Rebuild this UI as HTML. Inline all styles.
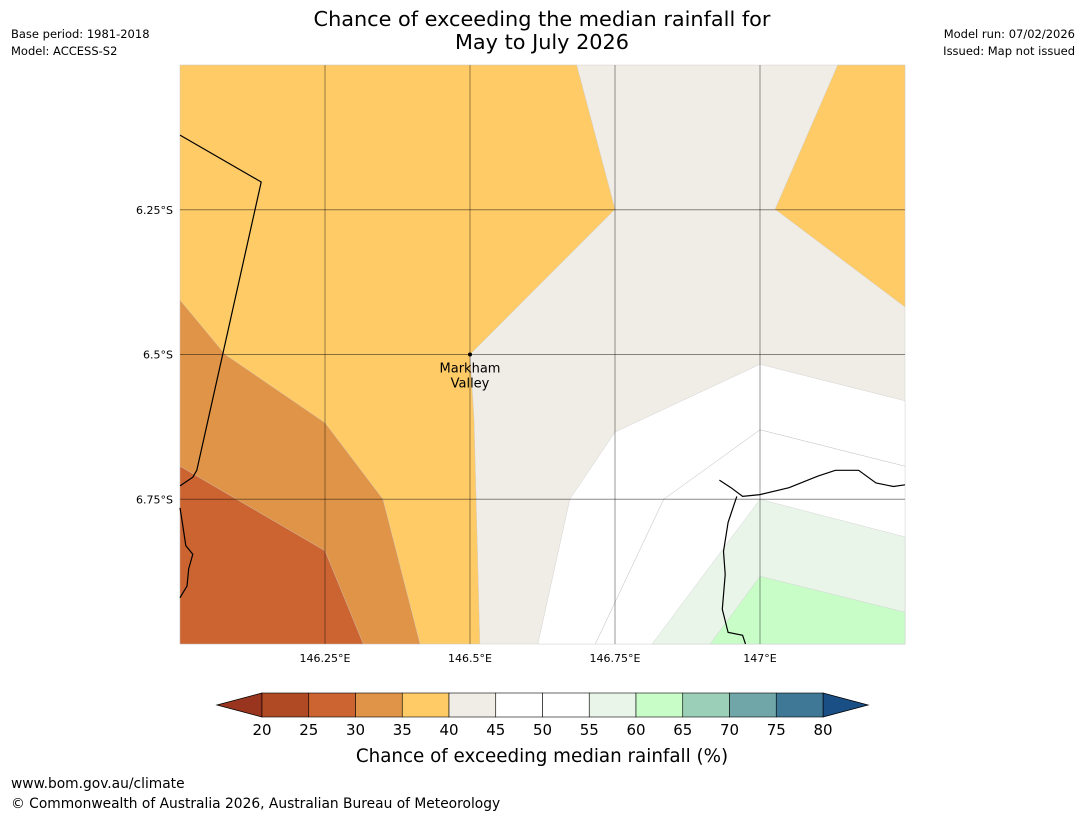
<!DOCTYPE html>
<html><head><meta charset="utf-8"><style>
body{margin:0;background:#fff;font-family:"Liberation Sans","DejaVu Sans",sans-serif;}
svg text{font-family:"DejaVu Sans","Liberation Sans",sans-serif;}
</style></head><body>
<svg id="c" width="1085" height="816" xmlns="http://www.w3.org/2000/svg">
<rect width="1085" height="816" fill="#fff"/>
<text x="542" y="26" font-size="20.8" text-anchor="middle">Chance of exceeding the median rainfall for</text>
<text x="542" y="49" font-size="20.8" text-anchor="middle">May to July 2026</text>
<text x="11" y="38" font-size="11.5">Base period: 1981-2018</text>
<text x="11" y="55" font-size="11.5">Model: ACCESS-S2</text>
<text x="1075" y="38" font-size="11.5" text-anchor="end">Model run: 07/02/2026</text>
<text x="1075" y="55" font-size="11.5" text-anchor="end">Issued: Map not issued</text>
<g id="map"></g>
<g id="cbar"></g>
<text x="542" y="762" font-size="18.3" text-anchor="middle">Chance of exceeding median rainfall (%)</text>
<text x="11" y="788" font-size="13.8">www.bom.gov.au/climate</text>
<text x="11" y="808" font-size="13.8">© Commonwealth of Australia 2026, Australian Bureau of Meteorology</text>
</svg>
<script>
const lonTicks=[146.25,146.5,146.75,147];
const lonLabels=["146.25°E","146.5°E","146.75°E","147°E"];
const latTicks=[6.25,6.5,6.75];
const latLabels=["6.25°S","6.5°S","6.75°S"];
const cbLevels=[20,25,30,35,40,45,50,55,60,65,70,75,80];
const cbColors=["#b04a25","#cc6431","#e09447","#fecb67","#f0ece6","#ffffff","#ffffff","#eaf5ea","#c8fdc8","#9ccfb8","#70a6a8","#3f7896"];
const regionBeige=[[146,6],[147.25,6],[147.25,7],[146,7]];
const regionOrange1=[[146,6],[146.684,6],[146.75,6.249],[146.5,6.5],[146.507,6.613],[146.517,7],[146,7]];
const regionOrange2=[[147.134,6],[147.25,6],[147.25,6.418],[147.026,6.249]];
const region30=[[146,6.406],[146.078,6.5],[146.25,6.618],[146.35,6.75],[146.414,7],[146,7]];
const region25=[[146,6.693],[146.25,6.839],[146.316,7],[146,7]];
const regionWhite=[[147.25,6.58],[147,6.517],[146.75,6.634],[146.672,6.75],[146.617,7],[147.25,7]];
const region55=[[146.814,7],[147,6.75],[147.25,6.815],[147.25,7]];
const region60=[[146.914,7],[147,6.883],[147.25,6.945],[147.25,7]];
const line50=[[147.25,6.693],[147,6.63],[146.834,6.75],[146.716,7]];
const coastWest=[[146,6.121],[146.14,6.202],[146.029,6.7],[146.022,6.712],[146,6.727]];
const coastWest2=[[146,6.765],[146.004,6.79],[146.01,6.83],[146.022,6.845],[146.015,6.87],[146.012,6.9],[146,6.92]];
const coastEast=[[146.93,6.717],[146.95,6.73],[146.97,6.745],[147,6.742],[147.05,6.73],[147.1,6.71],[147.13,6.7],[147.17,6.7],[147.2,6.722],[147.23,6.728],[147.25,6.725]];
const coastEast2=[[146.96,6.745],[146.945,6.79],[146.937,6.84],[146.94,6.88],[146.935,6.94],[146.945,6.98],[146.97,6.985],[146.975,7]];
const X=lon=>180+(lon-146)*580;
const Y=lat=>65+(lat-6)*579;
const CB=v=>262+(v-20)*(823-262)/60;
const NS="http://www.w3.org/2000/svg";
const map=document.getElementById('map');
function mk(tag,attrs,parent){const e=document.createElementNS(NS,tag);for(const k in attrs)e.setAttribute(k,attrs[k]);parent.appendChild(e);return e;}
function pts(a){return a.map(p=>X(p[0]).toFixed(1)+','+Y(p[1]).toFixed(1)).join(' ');}
const regs=[[regionBeige,"#f0ece6","region-40-45"],[regionOrange1,"#fecb67","region-35-40-west"],[regionOrange2,"#fecb67","region-35-40-ne"],[region30,"#e09447","region-30-35"],[region25,"#cc6431","region-25-30"],[regionWhite,"#ffffff","region-45-55"],[region55,"#eaf5ea","region-55-60"],[region60,"#c8fdc8","region-60-65"]];
regs.forEach(r=>{const p=mk('polygon',{points:pts(r[0]),fill:r[1],stroke:"#ccc","stroke-width":0.4},map);

});
const l50=mk('polyline',{points:pts(line50),fill:"none",stroke:"#bbb","stroke-width":0.5},map);


[coastWest,coastWest2,coastEast,coastEast2].forEach((c,i)=>{const p=mk('polyline',{points:pts(c),fill:"none",stroke:"#000","stroke-width":1.2},map);

});
lonTicks.forEach((t,i)=>{const l=mk('line',{x1:X(t),x2:X(t),y1:65,y2:644,stroke:"#000","stroke-opacity":0.45,"stroke-width":0.9},map);


const tx=mk('text',{x:X(t),y:662,"font-size":11,"text-anchor":"middle"},map);tx.textContent=lonLabels[i];

});
latTicks.forEach((t,i)=>{const l=mk('line',{x1:180,x2:905,y1:Y(t),y2:Y(t),stroke:"#000","stroke-opacity":0.45,"stroke-width":0.9},map);


const tx=mk('text',{x:173,y:Y(t)+4,"font-size":11,"text-anchor":"end"},map);tx.textContent=latLabels[i];

});
const dot=mk('circle',{cx:X(146.5),cy:Y(6.5),r:2,fill:"#000"},map);


const lb=mk('text',{x:X(146.5),y:Y(6.5)+18,"font-size":13,"text-anchor":"middle"},map);


mk('tspan',{x:X(146.5)},lb).textContent="Markham";
mk('tspan',{x:X(146.5),dy:15},lb).textContent="Valley";
const cb=document.getElementById('cbar');
const low=mk('polygon',{points:`${CB(20)},693 ${CB(20)},717 217,705`,fill:"#99351f",stroke:"#000","stroke-width":0.8},cb);


const hi=mk('polygon',{points:`${CB(80)},693 ${CB(80)},717 868,705`,fill:"#1a4f86",stroke:"#000","stroke-width":0.8},cb);


cbColors.forEach((c,i)=>{const r=mk('rect',{x:CB(cbLevels[i]),y:693,width:CB(cbLevels[i+1])-CB(cbLevels[i]),height:24,fill:c,stroke:"#000","stroke-width":0.6},cb);

});
cbLevels.forEach(v=>{const t=mk('text',{x:CB(v),y:735,"font-size":15,"text-anchor":"middle"},cb);t.textContent=v;

});
</script>
</body></html>
